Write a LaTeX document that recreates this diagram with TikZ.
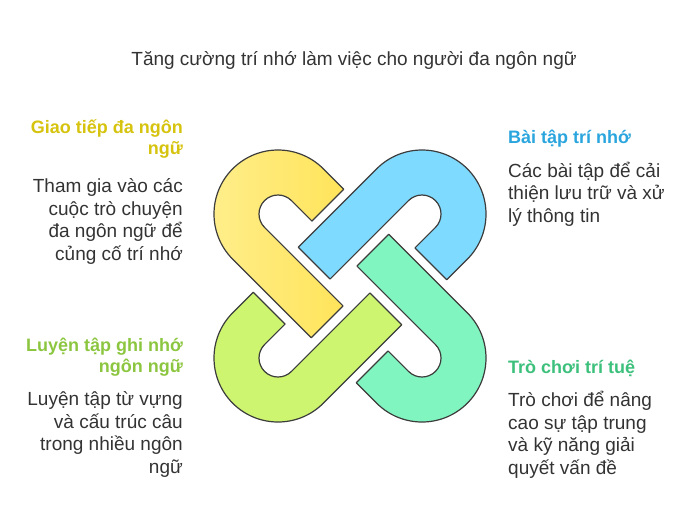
\documentclass[tikz,border=0pt]{standalone}
\usepackage{fontspec}
\setmainfont{Liberation Sans}
\definecolor{ink}{HTML}{333333}
\definecolor{outline}{HTML}{3C3C3C}
\definecolor{yelL}{HTML}{FFEE8C}
\definecolor{yelD}{HTML}{FFE45A}
\definecolor{bluF}{HTML}{7FDAFF}
\definecolor{grnF}{HTML}{80F5C0}
\definecolor{limF}{HTML}{CDF56F}
\definecolor{yelH}{HTML}{D6C30E}
\definecolor{bluH}{HTML}{2AA5DD}
\definecolor{grnH}{HTML}{3CC07C}
\definecolor{limH}{HTML}{8CC640}
\begin{document}
\begin{tikzpicture}[x=1pt,y=1pt,
  piece/.style={draw=outline,line width=1.2pt,line join=round},
  heading/.style={inner sep=0pt,font=\bfseries\fontsize{18}{21}\selectfont},
  body/.style={inner sep=0pt,text=ink,font=\fontsize{19}{22.5}\selectfont},
  lefttext/.style={anchor=base east,align=right},
  righttext/.style={anchor=base west,align=left}]
\path[use as bounding box] (0,0) rectangle (700,-528);
\def\hairpin{(111,-64) -- (0,-64) arc[start angle=270,end angle=90,radius=64pt] -- (29,64) -- (29,19) -- (0,19) arc[start angle=90,end angle=270,radius=19pt] -- (0,-19) -- (111,-19) -- cycle}
% knot pieces
\begin{scope}[shift={(278,-214)},rotate=-45]
  \path[piece,left color=yelL,right color=yelD] \hairpin;
\end{scope}
\begin{scope}[shift={(422,-214)},rotate=-135]
  \path[piece,fill=bluF] \hairpin;
\end{scope}
\begin{scope}[shift={(422,-358)},rotate=135]
  \path[piece,fill=grnF] \hairpin;
\end{scope}
\begin{scope}[shift={(278,-358)},rotate=45]
  \path[piece,fill=limF] \hairpin;
\end{scope}
% title
\node[inner sep=0pt,anchor=base,text=ink,font=\fontsize{19}{22}\selectfont] (title) at (354,-65) {Tăng cường trí nhớ làm việc cho người đa ngôn ngữ};
% left top (anchors at the baseline of the last line)
\node[heading,lefttext,text=yelH] (h1) at (183,-154) {Giao tiếp đa ngôn\\ngữ};
\node[body,lefttext] (b1) at (183,-260) {Tham gia vào các\\cuộc trò chuyện\\đa ngôn ngữ để\\củng cố trí nhớ};
% left bottom
\node[heading,lefttext,text=limH] (h4) at (183,-372) {Luyện tập ghi nhớ\\ngôn ngữ};
\node[body,lefttext] (b4) at (183,-473) {Luyện tập từ vựng\\và cấu trúc câu\\trong nhiều ngôn\\ngữ};
% right top
\node[heading,righttext,text=bluH] (h2) at (508,-143) {Bài tập trí nhớ};
\node[body,righttext] (b2) at (508,-222) {Các bài tập để cải\\thiện lưu trữ và xử\\lý thông tin};
% right bottom
\node[heading,righttext,text=grnH] (h3) at (508,-373) {Trò chơi trí tuệ};
\node[body,righttext] (b3) at (508,-474) {Trò chơi để nâng\\cao sự tập trung\\và kỹ năng giải\\quyết vấn đề};
\end{tikzpicture}
\end{document}
